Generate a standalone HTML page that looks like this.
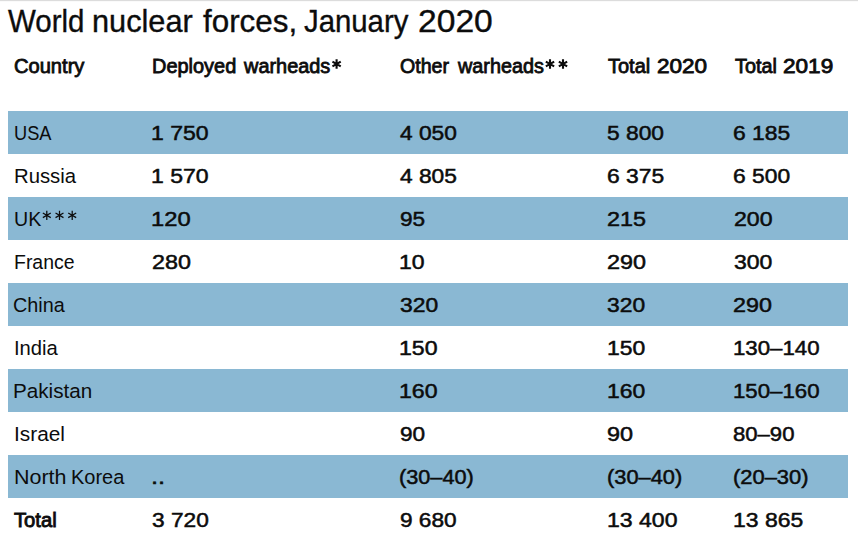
<!DOCTYPE html>
<html><head><meta charset="utf-8"><title>World nuclear forces, January 2020</title>
<style>
html,body{margin:0;padding:0;background:#fff;}
body{width:858px;height:546px;position:relative;overflow:hidden;font-family:"Liberation Sans",sans-serif;color:#0c0c0c;}
.topline{position:absolute;left:0;top:0;width:858px;height:1px;background:#dcdcdc;}
.topline2{position:absolute;left:0;top:1px;width:858px;height:1px;background:#fafafa;}
.t{position:absolute;white-space:nowrap;transform-origin:0 0;line-height:1;}
.title{font-size:30.5px;-webkit-text-stroke:0.35px #0c0c0c;}
.h{font-size:20px;-webkit-text-stroke:0.8px #0c0c0c;}
.band{position:absolute;left:8px;width:840px;height:43px;background:#8ab8d3;}
.c{font-size:20.5px;}
.n{font-size:20px;-webkit-text-stroke:0.5px #0c0c0c;}
.b{font-size:20px;-webkit-text-stroke:0.85px #0c0c0c;}
</style></head><body>
<div class="topline"></div><div class="topline2"></div>
<div class="band" style="top:111px"></div>
<div class="band" style="top:197px"></div>
<div class="band" style="top:283px"></div>
<div class="band" style="top:369px"></div>
<div class="band" style="top:455px"></div>
<div class="t title" style="left:7.76px;top:6px;transform:scaleX(0.9657)">World</div>
<div class="t title" style="left:92.29px;top:6px;transform:scaleX(1.0072)">nuclear</div>
<div class="t title" style="left:202.65px;top:6px;transform:scaleX(1.0281)">forces,</div>
<div class="t title" style="left:303.61px;top:6px;transform:scaleX(0.9618)">January</div>
<div class="t title" style="left:417.95px;top:6px;transform:scaleX(1.1029)">2020</div>
<div class="t h" style="left:13.64px;top:56px;transform:scaleX(1.0048)">Country</div>
<div class="t h" style="left:151.51px;top:56px;transform:scaleX(0.997)">Deployed</div>
<div class="t h" style="left:243.6px;top:56px;transform:scaleX(0.9953)">warheads</div>
<div class="t h" style="left:400.11px;top:56px;transform:scaleX(0.9807)">Other</div>
<div class="t h" style="left:457.6px;top:56px;transform:scaleX(0.9896)">warheads</div>
<div class="t h" style="left:607.92px;top:56px;transform:scaleX(0.9999)">Total</div>
<div class="t h" style="left:657.32px;top:56px;transform:scaleX(1.1252)">2020</div>
<div class="t h" style="left:734.52px;top:56px;transform:scaleX(0.9902)">Total</div>
<div class="t h" style="left:783.31px;top:56px;transform:scaleX(1.1282)">2019</div>
<div class="t c" style="left:14.15px;top:123px;transform:scaleX(0.8888)">USA</div>
<div class="t n" style="left:151.15px;top:123px;transform:scaleX(1.1521)">1 750</div>
<div class="t n" style="left:399.63px;top:123px;transform:scaleX(1.1364)">4 050</div>
<div class="t n" style="left:607.48px;top:123px;transform:scaleX(1.1394)">5 800</div>
<div class="t n" style="left:733.14px;top:123px;transform:scaleX(1.1433)">6 185</div>
<div class="t c" style="left:13.81px;top:166px;transform:scaleX(0.9902)">Russia</div>
<div class="t n" style="left:151.15px;top:166px;transform:scaleX(1.1521)">1 570</div>
<div class="t n" style="left:399.63px;top:166px;transform:scaleX(1.1374)">4 805</div>
<div class="t n" style="left:607.44px;top:166px;transform:scaleX(1.1412)">6 375</div>
<div class="t n" style="left:733.44px;top:166px;transform:scaleX(1.1402)">6 500</div>
<div class="t c" style="left:13.94px;top:209px;transform:scaleX(0.9575)">UK</div>
<div class="t n" style="left:151.1px;top:209px;transform:scaleX(1.1876)">120</div>
<div class="t n" style="left:399.91px;top:209px;transform:scaleX(1.1312)">95</div>
<div class="t n" style="left:607.45px;top:209px;transform:scaleX(1.1689)">215</div>
<div class="t n" style="left:733.66px;top:209px;transform:scaleX(1.1554)">200</div>
<div class="t c" style="left:13.88px;top:252px;transform:scaleX(0.949)">France</div>
<div class="t n" style="left:151.85px;top:252px;transform:scaleX(1.1648)">280</div>
<div class="t n" style="left:399.45px;top:252px;transform:scaleX(1.1501)">10</div>
<div class="t n" style="left:607.45px;top:252px;transform:scaleX(1.1679)">290</div>
<div class="t n" style="left:733.83px;top:252px;transform:scaleX(1.15)">300</div>
<div class="t c" style="left:13.32px;top:295px;transform:scaleX(0.9659)">China</div>
<div class="t n" style="left:399.84px;top:295px;transform:scaleX(1.1438)">320</div>
<div class="t n" style="left:607.34px;top:295px;transform:scaleX(1.1407)">320</div>
<div class="t n" style="left:733.15px;top:295px;transform:scaleX(1.1648)">290</div>
<div class="t c" style="left:13.69px;top:338px;transform:scaleX(0.9868)">India</div>
<div class="t n" style="left:399.45px;top:338px;transform:scaleX(1.1558)">150</div>
<div class="t n" style="left:607.16px;top:338px;transform:scaleX(1.1462)">150</div>
<div class="t n" style="left:733.2px;top:338px;transform:scaleX(1.112)">130–140</div>
<div class="t c" style="left:13.08px;top:381px;transform:scaleX(1.0082)">Pakistan</div>
<div class="t n" style="left:399.45px;top:381px;transform:scaleX(1.1558)">160</div>
<div class="t n" style="left:607.16px;top:381px;transform:scaleX(1.1462)">160</div>
<div class="t n" style="left:733.2px;top:381px;transform:scaleX(1.112)">150–160</div>
<div class="t c" style="left:13.64px;top:424px;transform:scaleX(1.0158)">Israel</div>
<div class="t n" style="left:399.91px;top:424px;transform:scaleX(1.1289)">90</div>
<div class="t n" style="left:607.18px;top:424px;transform:scaleX(1.1719)">90</div>
<div class="t n" style="left:733.26px;top:424px;transform:scaleX(1.105)">80–90</div>
<div class="t c" style="left:13.71px;top:467px;transform:scaleX(1.0471)">North</div>
<div class="t c" style="left:70.53px;top:467px;transform:scaleX(0.9755)">Korea</div>
<div class="t n" style="left:151.31px;top:467px;transform:scaleX(1.2738)">..</div>
<div class="t n" style="left:399.38px;top:467px;transform:scaleX(1.085)">(30–40)</div>
<div class="t n" style="left:606.67px;top:467px;transform:scaleX(1.091)">(30–40)</div>
<div class="t n" style="left:732.67px;top:467px;transform:scaleX(1.0954)">(20–30)</div>
<div class="t b" style="left:14.13px;top:510px;transform:scaleX(1.0111)">Total</div>
<div class="t n" style="left:152.04px;top:510px;transform:scaleX(1.1341)">3 720</div>
<div class="t n" style="left:399.91px;top:510px;transform:scaleX(1.1307)">9 680</div>
<div class="t n" style="left:607.15px;top:510px;transform:scaleX(1.1526)">13 400</div>
<div class="t n" style="left:733.16px;top:510px;transform:scaleX(1.1483)">13 865</div>
<svg width="858" height="546" viewBox="0 0 858 546" style="position:absolute;left:0;top:0"><path d="M336.60 59.20L336.60 68.80M332.44 61.60L340.76 66.40M340.76 61.60L332.44 66.40" stroke="#0c0c0c" stroke-width="2.1" fill="none"/><path d="M550.00 59.20L550.00 68.80M545.84 61.60L554.16 66.40M554.16 61.60L545.84 66.40" stroke="#0c0c0c" stroke-width="2.1" fill="none"/><path d="M563.00 59.20L563.00 68.80M558.84 61.60L567.16 66.40M567.16 61.60L558.84 66.40" stroke="#0c0c0c" stroke-width="2.1" fill="none"/><path d="M46.80 210.70L46.80 219.90M42.82 213.00L50.78 217.60M50.78 213.00L42.82 217.60" stroke="#0c0c0c" stroke-width="1.25" fill="none"/><path d="M59.50 210.70L59.50 219.90M55.52 213.00L63.48 217.60M63.48 213.00L55.52 217.60" stroke="#0c0c0c" stroke-width="1.25" fill="none"/><path d="M72.20 210.70L72.20 219.90M68.22 213.00L76.18 217.60M76.18 213.00L68.22 217.60" stroke="#0c0c0c" stroke-width="1.25" fill="none"/></svg>
</body></html>
